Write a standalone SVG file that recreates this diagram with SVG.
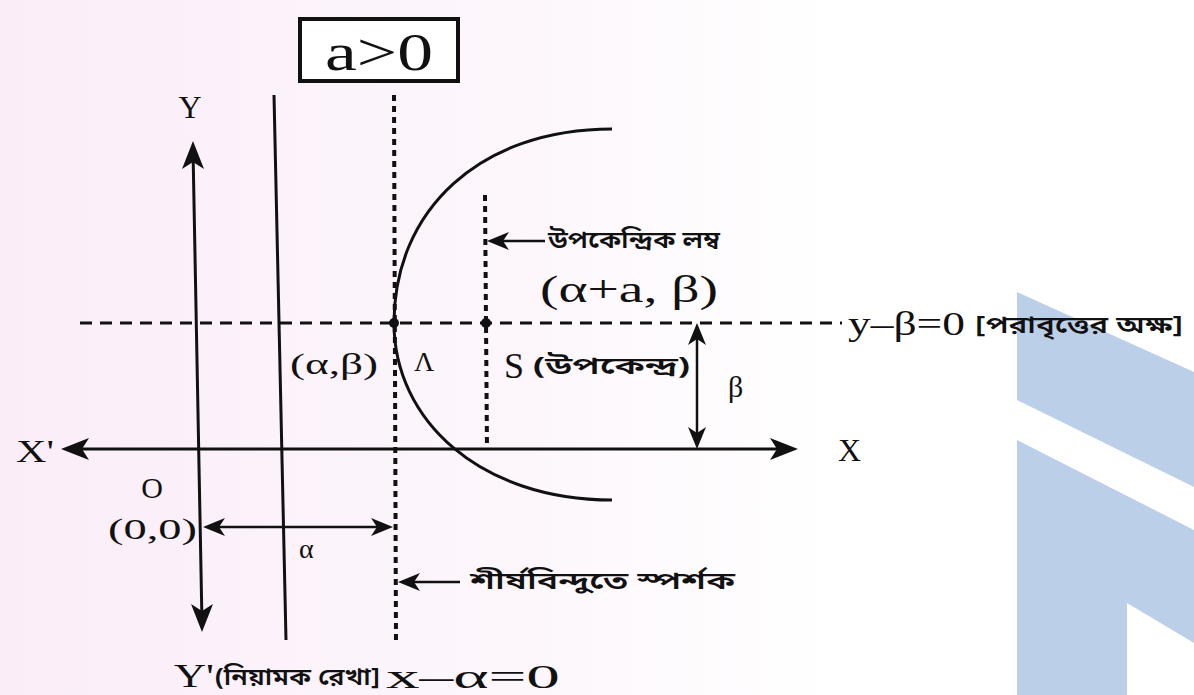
<svg xmlns="http://www.w3.org/2000/svg" width="1194" height="695" viewBox="0 0 1194 695">
<defs>
<linearGradient id="bg" x1="0" y1="0" x2="1" y2="0">
<stop offset="0" stop-color="#faedf9"/>
<stop offset="0.45" stop-color="#fdf7fc"/>
<stop offset="0.7" stop-color="#ffffff"/>
</linearGradient>
<style>
.ln{stroke:#111;stroke-width:3;fill:none}
.dot{stroke:#111;stroke-width:4;fill:none;stroke-dasharray:6 5}
.dash{stroke:#111;stroke-width:3;fill:none;stroke-dasharray:12 8}
.head{fill:#111;stroke:none}
.m{font-family:"Liberation Serif","Times New Roman",serif;fill:#111}
.b{font-family:"Noto Sans Bengali","Noto Serif Bengali","Lohit Bengali","Noto Sans",sans-serif;fill:#111;font-weight:600}
</style>
</defs>
<rect width="1194" height="695" fill="url(#bg)"/>
<g id="watermark" fill="#bccfe8">
<polygon points="1017,292 1194,372 1194,487 1017,400"/>
<polygon points="1017,440 1194,530 1194,643 1127,603 1127,695 1017,695"/>
</g>
<g id="title">
<rect x="300" y="19" width="158" height="62" fill="#fff" stroke="#111" stroke-width="4"/>
<text class="m" x="325" y="70" font-size="52" textLength="108" lengthAdjust="spacingAndGlyphs">a&gt;0</text>
</g>
<g id="lines">
<line id="directrix" class="ln" x1="274" y1="95" x2="286" y2="640"/>
<line id="vertex-tangent" class="dot" x1="394" y1="95" x2="396" y2="645"/>
<line id="latus-rectum" class="dot" x1="485" y1="195" x2="487" y2="450"/>
<line id="parabola-axis" class="dash" x1="80" y1="323" x2="842" y2="323"/>
<path id="parabola" class="ln" d="M612,129 C480,129 394,210 394,323 C394,420 480,500 612,500"/>
<circle cx="394" cy="323" r="5" fill="#111"/>
<circle cx="486" cy="323" r="5" fill="#111"/>
</g>
<g id="connectors">
<g class="ln">
<line x1="193" y1="150" x2="202" y2="623"/>
<line x1="70" y1="449" x2="789" y2="449"/>
<line x1="697" y1="330" x2="697" y2="442" stroke-width="2.5"/>
<line x1="209" y1="527" x2="387" y2="527" stroke-width="2.5"/>
<line x1="545" y1="241" x2="494" y2="241" stroke-width="2.5"/>
<line x1="460" y1="582" x2="405" y2="582" stroke-width="2.5"/>
</g>
<g class="head">
<polygon points="193,141 182,169 193,162 204,169"/>
<polygon points="202,632 191,604 202,611 213,604"/>
<polygon points="61,449 89,438 82,449 89,460"/>
<polygon points="798,449 770,438 777,449 770,460"/>
<polygon points="697,323 688,345 697,339 706,345"/>
<polygon points="697,449 688,427 697,433 706,427"/>
<polygon points="203,527 225,518 219,527 225,536"/>
<polygon points="393,527 371,518 377,527 371,536"/>
<polygon points="487,241 509,232 503,241 509,250"/>
<polygon points="398,582 420,573 414,582 420,591"/>
</g>
</g>
<g id="labels">
<text class="m" x="190" y="118" font-size="32" text-anchor="middle">Y</text>
<text class="m" x="16" y="462" font-size="32" textLength="38" lengthAdjust="spacingAndGlyphs">X'</text>
<text class="m" x="838" y="461" font-size="32">X</text>
<text class="m" x="152" y="498" font-size="30" text-anchor="middle">O</text>
<text class="m" x="108" y="539" font-size="30" textLength="89" lengthAdjust="spacingAndGlyphs">(0,0)</text>
<text class="m" x="299" y="558" font-size="28">α</text>
<text class="m" x="290" y="374" font-size="30" textLength="88" lengthAdjust="spacingAndGlyphs">(α,β)</text>
<text class="m" x="414" y="371" font-size="28">Λ</text>
<text class="m" x="504" y="378" font-size="36">S</text>
<text class="b" x="533" y="374" font-size="24" textLength="157" lengthAdjust="spacingAndGlyphs">(উপকেন্দ্র)</text>
<text class="m" x="728" y="397" font-size="30">β</text>
<text class="b" x="548" y="248" font-size="24" textLength="172" lengthAdjust="spacingAndGlyphs">উপকেন্দ্রিক লম্ব</text>
<text class="m" x="540" y="302" font-size="38" textLength="178" lengthAdjust="spacingAndGlyphs">(α+a, β)</text>
<text class="m" x="848" y="335" font-size="34" textLength="117" lengthAdjust="spacingAndGlyphs">y–β=0</text>
<text class="b" x="975" y="333" font-size="24" textLength="208" lengthAdjust="spacingAndGlyphs">[পরাবৃত্তের অক্ষ]</text>
<text class="b" x="470" y="589" font-size="24" textLength="265" lengthAdjust="spacingAndGlyphs">শীর্ষবিন্দুতে স্পর্শক</text>
<text class="m" x="174" y="687" font-size="34" textLength="40" lengthAdjust="spacingAndGlyphs">Y'</text>
<text class="b" x="215" y="685" font-size="24" textLength="165" lengthAdjust="spacingAndGlyphs">(নিয়ামক রেখা]</text>
<text class="m" x="386" y="688" font-size="34" textLength="174" lengthAdjust="spacingAndGlyphs">x–α=0</text>
</g>
</svg>
